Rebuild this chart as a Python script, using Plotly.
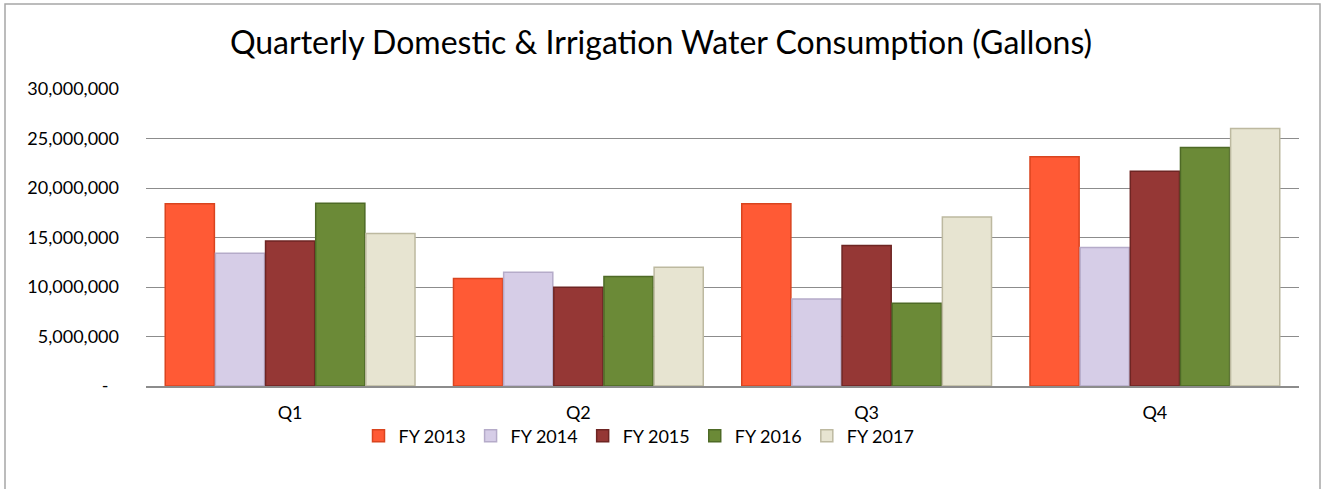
import plotly.graph_objects as go

quarters = ["Q1", "Q2", "Q3", "Q4"]
series_names = ["FY 2013", "FY 2014", "FY 2015", "FY 2016", "FY 2017"]
fy2013 = [18400000, 10850000, 18400000, 23150000]
fy2014 = [13400000, 11500000, 8800000, 14000000]
fy2015 = [14650000, 9970000, 14200000, 21700000]
fy2016 = [18450000, 11050000, 8350000, 24100000]
fy2017 = [15400000, 12000000, 17070000, 26000000]
colors = ["#FF5A35", "#D6CDE7", "#953735", "#6B8A37", "#E7E4D1"]
edge_colors = ["#D9441F", "#B5ABC9", "#6E2523", "#4E6A26", "#BDB9A0"]

tick_vals = [0, 5000000, 10000000, 15000000, 20000000, 25000000, 30000000]
tick_text = ["-\u2007", "5,000,000", "10,000,000", "15,000,000", "20,000,000", "25,000,000", "30,000,000"]

W, H = 1322, 489
ml, mr, mt, mb = 146, 23, 89, 103

fig = go.Figure()
for name, vals, c, ec in zip(series_names, [fy2013, fy2014, fy2015, fy2016, fy2017], colors, edge_colors):
    fig.add_trace(go.Bar(x=quarters, y=vals, name=name,
                         marker=dict(color=c, line=dict(color=ec, width=1.5))))

pw = W - ml - mr
ph = H - mt - mb
def px_x(x):
    return (x - ml) / pw
def px_y(y):
    return (H - mb - y) / ph

fig.update_layout(
    width=W, height=H,
    margin=dict(l=ml, r=mr, t=mt, b=mb, autoexpand=False),
    paper_bgcolor="white", plot_bgcolor="white",
    font=dict(family="Lato, Open Sans, sans-serif", size=18, color="#000000"),
    title=dict(text="Quarterly Domestic & Irrigation Water Consumption (Gallons)",
               x=0.5, xanchor="center", y=1 - 43 / H, yanchor="middle",
               font=dict(size=32, color="#000000")),
    barmode="group", bargap=0.13, bargroupgap=0.02,
    showlegend=True,
    legend=dict(orientation="h", x=639 / W, xref="container", xanchor="center",
                y=1 - 436 / H, yanchor="middle", yref="container",
                bgcolor="rgba(0,0,0,0)", font=dict(size=18), itemwidth=30,
                traceorder="normal"),
    xaxis=dict(showline=True, linecolor="#8C8C8C", linewidth=2, ticks="", automargin=False,
               ticklabelstandoff=9, tickfont=dict(size=18), showgrid=False),
    yaxis=dict(range=[0, 30000000], tickvals=tick_vals, ticktext=tick_text,
               showgrid=True, gridcolor="#8C8C8C", gridwidth=1.3, automargin=False,
               ticks="", ticklabelstandoff=26,
               showline=False, zeroline=False, tickfont=dict(size=18)),
    shapes=[dict(type="rect", xref="paper", yref="paper",
                 x0=px_x(5), x1=px_x(1320), y0=px_y(495), y1=px_y(4),
                 line=dict(color="#A6A6A6", width=1.5), fillcolor="rgba(0,0,0,0)", layer="below")],
)

fig.write_html("out.html", config={"displayModeBar": False},
               post_script="document.body.style.margin='0';document.body.style.overflow='hidden';")
